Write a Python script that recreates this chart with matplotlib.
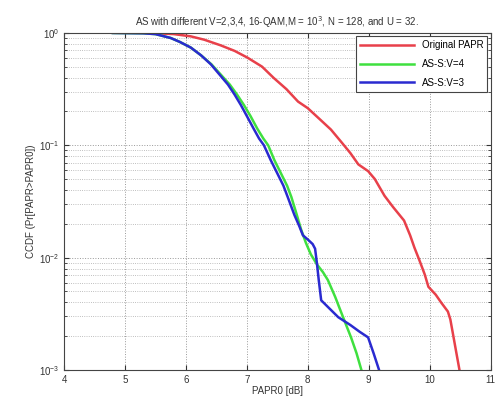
import matplotlib
matplotlib.use("Agg")
import matplotlib.pyplot as plt
from matplotlib.ticker import LogLocator, NullFormatter

plt.rcParams['font.family'] = ['Liberation Sans', 'DejaVu Sans']

# Original PAPR
red_x = [5.4, 5.8, 6.08, 6.3, 6.57, 6.8, 7.01, 7.25, 7.44, 7.65, 7.84, 8.0, 8.2, 8.38,
         8.55, 8.7, 8.83, 8.99, 9.1, 9.26, 9.4, 9.58, 9.68, 9.75, 9.83, 9.92, 9.98,
         10.1, 10.19, 10.3, 10.34, 10.38, 10.44, 10.49]
red_y = [1.0, 0.977, 0.933, 0.871, 0.776, 0.692, 0.603, 0.501, 0.398, 0.316, 0.245,
         0.214, 0.170, 0.138, 0.107, 0.0851, 0.0676, 0.0589, 0.0501, 0.0355, 0.0282,
         0.0214, 0.0158, 0.0123, 0.00955, 0.00708, 0.00550, 0.00468, 0.00398,
         0.00331, 0.00282, 0.00214, 0.00141, 0.001]
# AS-S:V=4
green_x = [4.8, 5.3, 5.5, 5.75, 5.9, 6.08, 6.25, 6.42, 6.57, 6.72, 6.84, 6.95, 7.06,
           7.17, 7.27, 7.35, 7.45, 7.56, 7.66, 7.73, 7.82, 7.89, 7.97, 8.05, 8.15,
           8.25, 8.33, 8.45, 8.55, 8.63, 8.71, 8.8, 8.88]
green_y = [1.0, 0.993, 0.977, 0.902, 0.832, 0.741, 0.631, 0.525, 0.427, 0.347, 0.282,
           0.229, 0.182, 0.141, 0.115, 0.100, 0.0741, 0.0562, 0.0437, 0.0347, 0.0240,
           0.0178, 0.0135, 0.0107, 0.00871, 0.00741, 0.00631, 0.00447, 0.00324,
           0.00251, 0.00195, 0.00141, 0.001]
# AS-S:V=3
blue_x = [4.8, 5.3, 5.5, 5.75, 5.9, 6.08, 6.25, 6.41, 6.55, 6.69, 6.8, 6.90, 7.0, 7.11,
          7.2, 7.28, 7.39, 7.5, 7.6, 7.67, 7.78, 7.86, 7.92, 8.0, 8.08, 8.12, 8.15,
          8.18, 8.22, 8.35, 8.5, 8.7, 8.85, 8.99, 9.08, 9.17]
blue_y = [1.0, 0.993, 0.977, 0.902, 0.832, 0.741, 0.631, 0.525, 0.427, 0.347, 0.282,
          0.229, 0.182, 0.141, 0.115, 0.100, 0.0741, 0.0562, 0.0437, 0.0347, 0.0240,
          0.0191, 0.0158, 0.0145, 0.0132, 0.0120, 0.00891, 0.00631, 0.00417,
          0.00355, 0.00295, 0.00251, 0.00219, 0.00195, 0.00141, 0.001]

labels = ["Original PAPR", "AS-S:V=4", "AS-S:V=3"]
x_ticks = [4, 5, 6, 7, 8, 9, 10, 11]

fig = plt.figure(figsize=(4.97, 4.07), dpi=100)
ax = fig.add_axes([0.129, 0.091, 0.858, 0.828])

ax.plot(red_x, red_y, color='#e8404a', lw=1.8, label=labels[0])
ax.plot(green_x, green_y, color='#3fe03f', lw=1.8, label=labels[1])
ax.plot(blue_x, blue_y, color='#2a2ad0', lw=1.8, label=labels[2])

ax.set_yscale('log')
ax.set_xlim(4, 11)
ax.set_ylim(1e-3, 1)
ax.set_xticks(x_ticks)
ax.yaxis.set_major_locator(LogLocator(base=10, numticks=10))
ax.yaxis.set_minor_locator(LogLocator(base=10, subs=range(2, 10), numticks=10))
ax.yaxis.set_minor_formatter(NullFormatter())
ax.tick_params(which='both', direction='in', top=True, right=True, labelsize=7,
               colors='#333333')
ax.grid(True, which='major', linestyle=':', color='#999999', lw=0.7)
ax.grid(True, which='minor', axis='y', linestyle=':', color='#aaaaaa', lw=0.6)
for s in ax.spines.values():
    s.set_color('#444444')
    s.set_linewidth(0.8)

ax.set_xlabel("PAPR0 [dB]", fontsize=7, color='#333333', labelpad=1)
ax.set_ylabel("CCDF (Pr[PAPR>PAPR0])", fontsize=7, color='#333333', labelpad=2)
ax.set_title("AS with different V=2,3,4, 16-QAM,M = 10$^3$, N = 128, and U = 32.",
             fontsize=7, color='#333333', pad=5)

leg = ax.legend(loc='upper right', fontsize=7, frameon=True, fancybox=False,
                borderaxespad=0.35, handlelength=5.5, labelspacing=0.9,
                framealpha=1)
leg.get_frame().set_edgecolor('#444444')
leg.get_frame().set_linewidth(0.8)

fig.savefig("out.png", dpi=100)
